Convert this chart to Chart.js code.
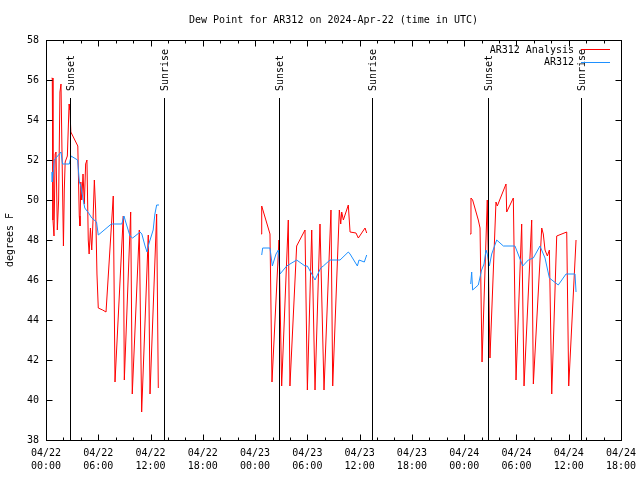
<!DOCTYPE html>
<html>
<head>
<meta charset="utf-8">
<title>Dew Point for AR312</title>
<script src="https://cdn.jsdelivr.net/npm/chart.js@4.4.1/dist/chart.umd.min.js"></script>
<style>
  html, body { margin: 0; padding: 0; background: #fff; }
  canvas { display: block; }
</style>
</head>
<body>
<canvas id="dewChart" width="640" height="480"></canvas>
<script>
// hours since 04/22 00:00 UTC; null value = gap in the record
const analysisHours = [
  0.65, 0.72, 0.80, 0.92, 1.05, 1.15, 1.30, 1.45, 1.60, 1.72, 1.85, 2.00, 2.10, 2.20, 2.45, 2.65, 2.75, 2.85,
  3.65, 3.82, 3.90, 4.00, 4.10, 4.25, 4.40, 4.55, 4.70, 4.85, 4.95, 5.10, 5.25, 5.40, 5.55, 5.70, 5.85, 6.00,
  6.50, 6.89, 7.72, 7.92, 8.87, 8.99, 9.72, 9.90, 10.71, 10.98, 11.74, 11.94, 12.70, 12.89,
  18,
  24.68, 24.76, 25.71, 25.94, 26.74, 27.05, 27.81, 28.00, 28.77, 29.73, 30.00, 30.50, 30.88, 31.45, 31.91,
  32.71, 32.91, 33.67, 33.83, 33.94, 34.13, 34.70, 34.90, 35.58, 35.85, 36.62, 36.81,
  43,
  48.67, 48.78, 48.97, 49.62, 49.82, 50.05, 50.65, 50.96, 51.65, 51.80, 52.80, 52.88, 53.64, 53.95, 54.60,
  54.87, 55.75, 55.94, 56.90, 57.08, 57.28, 57.55, 57.78, 58.05, 58.62, 59.77, 60.00, 60.84
];
const analysisDew = [
  56.1, 56.1, 49.0, 48.2, 52.3, 52.4, 48.5, 50.0, 55.4, 55.8, 52.0, 47.7, 50.5, 51.9, 52.2, 54.8, 54.5, 53.4,
  52.7, 49.2, 48.7, 50.9, 50.0, 51.3, 49.8, 51.8, 52.0, 48.0, 47.3, 48.6, 47.5, 49.0, 51.0, 49.5, 46.3, 44.6,
  44.5, 44.4, 50.2, 40.9, 49.2, 41.0, 49.4, 40.3, 48.5, 39.4, 48.25, 40.3, 49.3, 40.6,
  null,
  48.3, 49.7, 48.3, 40.9, 48.0, 40.7, 49.0, 40.7, 47.7, 48.5, 40.5, 48.5, 40.5, 48.8, 40.5,
  49.5, 40.7, 49.5, 48.8, 49.4, 49.0, 49.75, 48.4, 48.35, 48.1, 48.6, 48.35,
  null,
  48.3, 50.1, 50.0, 49.0, 48.6, 41.9, 50.0, 42.1, 49.9, 49.7, 50.8, 49.4, 50.1, 41.0, 48.8,
  40.7, 49.0, 40.8, 48.6, 48.3, 47.5, 47.2, 47.5, 40.3, 48.2, 48.4, 40.7, 48.0
];

const stationHours = [
  0.70, 0.72, 0.95, 1.72, 1.90, 2.68, 2.87, 3.63, 3.83, 4.00, 4.15, 4.45, 4.97, 5.25, 5.80, 6.00, 7.50,
  8.70, 8.95, 9.15, 9.64, 9.95, 10.80, 11.00, 11.37, 11.60, 11.80, 12.30, 12.50, 12.70, 12.97,
  18,
  24.76, 24.87, 25.71, 25.98, 26.40, 26.67, 26.86, 27.63, 28.77, 29.73, 30.00, 30.88, 31.53, 31.83, 32.60,
  33.75, 34.70, 34.90, 35.74, 35.93, 36.54, 36.81,
  43,
  48.75, 48.86, 48.97, 49.62, 50.00, 50.28, 50.50, 50.65, 50.89, 51.16, 51.73, 52.50, 53.83, 54.72, 55.36,
  55.94, 56.70, 57.28, 57.78, 58.80, 59.69, 60.72, 60.84
];
const stationDew = [
  51.4, 50.9, 52.0, 52.4, 51.8, 51.8, 52.2, 52.0, 50.9, 50.7, 50.3, 49.6, 49.3, 49.1, 48.9, 48.25, 48.8,
  48.8, 49.2, 48.9, 48.2, 48.1, 48.4, 48.3, 47.7, 47.4, 47.8, 48.5, 49.3, 49.75, 49.75,
  null,
  47.25, 47.6, 47.6, 46.7, 47.3, 47.5, 46.3, 46.7, 47.0, 46.7, 46.7, 46.0, 46.6, 46.7, 47.0,
  47.0, 47.4, 47.3, 46.7, 47.0, 46.9, 47.25,
  null,
  45.8, 46.4, 45.5, 45.75, 46.5, 46.8, 47.5, 47.3, 46.7, 47.3, 48.0, 47.7, 47.7, 46.7, 47.0,
  47.1, 47.7, 47.1, 46.1, 45.75, 46.3, 46.3, 45.4
];

const xTickLabels = [
  ["04/22", "00:00"], ["04/22", "06:00"], ["04/22", "12:00"], ["04/22", "18:00"],
  ["04/23", "00:00"], ["04/23", "06:00"], ["04/23", "12:00"], ["04/23", "18:00"],
  ["04/24", "00:00"], ["04/24", "06:00"], ["04/24", "12:00"], ["04/24", "18:00"]
];
const yTicks = [38, 40, 42, 44, 46, 48, 50, 52, 54, 56, 58];

const eventHours = [2.79, 13.58, 26.78, 37.45, 50.77, 61.41];
const eventLabels = ["Sunset", "Sunrise", "Sunset", "Sunrise", "Sunset", "Sunrise"];

const seriesNames = ["AR312 Analysis", "AR312"];
const seriesColors = ["#ff0000", "#1e90ff"];

const FONT = "10px 'DejaVu Sans Mono'";

function toPoints(hours, values) {
  return hours.map((h, i) => ({ x: h, y: values[i] }));
}

const gnuplotLook = {
  id: "gnuplotLook",
  afterDatasetsDraw(chart) {
    const ctx = chart.ctx;
    const area = chart.chartArea;
    const xs = chart.scales.x;
    const ys = chart.scales.y;
    const L = area.left + 0.5, R = area.right + 0.5, T = area.top + 0.5, B = area.bottom + 0.5;

    ctx.save();
    ctx.strokeStyle = "#000";
    ctx.lineWidth = 1;

    // sunrise / sunset markers
    ctx.font = FONT;
    ctx.fillStyle = "#000";
    eventHours.forEach((h, i) => {
      let px = Math.round(xs.getPixelForValue(h)) + 0.5;
      ctx.beginPath();
      ctx.moveTo(px, 98);
      ctx.lineTo(px, B);
      ctx.stroke();
      ctx.save();
      ctx.translate(px + 1, 91);
      ctx.rotate(-Math.PI / 2);
      ctx.textAlign = "left";
      ctx.textBaseline = "middle";
      ctx.fillText(eventLabels[i], 0, 0);
      ctx.restore();
    });

    // frame
    ctx.strokeRect(L, T, R - L, B - T);

    // x ticks, major every 6h, minor every 2h, mirrored on top
    ctx.beginPath();
    for (let h = 0; h <= 66; h += 2) {
      let px = Math.round(xs.getPixelForValue(h)) + 0.5;
      let len = h % 6 === 0 ? 6 : 3;
      ctx.moveTo(px, B); ctx.lineTo(px, B - len);
      ctx.moveTo(px, T); ctx.lineTo(px, T + len);
    }
    // y ticks, mirrored on right
    yTicks.forEach((v) => {
      let py = Math.round(ys.getPixelForValue(v)) + 0.5;
      ctx.moveTo(L, py); ctx.lineTo(L + 6, py);
      ctx.moveTo(R, py); ctx.lineTo(R - 6, py);
    });
    ctx.stroke();

    // title
    ctx.textAlign = "center";
    ctx.textBaseline = "middle";
    ctx.fillText("Dew Point for AR312 on 2024-Apr-22 (time in UTC)", (area.left + area.right) / 2, 20);

    // y axis title
    ctx.save();
    ctx.translate(10, (area.top + area.bottom) / 2);
    ctx.rotate(-Math.PI / 2);
    ctx.fillText("degrees F", 0, 0);
    ctx.restore();

    // key
    ctx.textAlign = "right";
    seriesNames.forEach((name, i) => {
      let y = 50 + i * 12.5;
      ctx.fillStyle = "#000";
      ctx.fillText(name, 574, y);
      ctx.strokeStyle = seriesColors[i];
      ctx.beginPath();
      ctx.moveTo(581, Math.floor(y) - 0.5 + i);
      ctx.lineTo(610, Math.floor(y) - 0.5 + i);
      ctx.stroke();
    });
    ctx.restore();
  }
};

new Chart(document.getElementById("dewChart"), {
  type: "line",
  data: {
    datasets: [
      {
        label: seriesNames[0],
        data: toPoints(analysisHours, analysisDew),
        borderColor: seriesColors[0],
        borderWidth: 1,
        pointRadius: 0,
        tension: 0,
        spanGaps: false,
        order: 1,
      },
      {
        label: seriesNames[1],
        data: toPoints(stationHours, stationDew),
        borderColor: seriesColors[1],
        borderWidth: 1,
        pointRadius: 0,
        tension: 0,
        spanGaps: false,
        order: 0,
      },
    ],
  },
  options: {
    responsive: false,
    devicePixelRatio: 1,
    animation: false,
    layout: { padding: { top: 40, right: 19, left: 0, bottom: 0 } },
    plugins: {
      legend: { display: false },
      title: { display: false },
      tooltip: { enabled: false },
    },
    scales: {
      x: {
        type: "linear",
        min: 0,
        max: 66,
        grid: { display: false, drawTicks: false },
        border: { display: false },
        ticks: {
          stepSize: 6,
          autoSkip: false,
          maxRotation: 0,
          padding: 7,
          color: "#000",
          font: { family: "DejaVu Sans Mono", size: 10, lineHeight: 1.3 },
          callback: (v) => xTickLabels[Math.round(v / 6)],
        },
        afterFit: (scale) => {
          scale.height = 40;
          scale.paddingLeft = 0;
          scale.paddingRight = 0;
        },
      },
      y: {
        min: 38,
        max: 58,
        grid: { display: false, drawTicks: false },
        border: { display: false },
        ticks: {
          stepSize: 2,
          padding: 7,
          color: "#000",
          font: { family: "DejaVu Sans Mono", size: 10 },
        },
        afterFit: (scale) => {
          scale.width = 46;
          scale.paddingTop = 0;
          scale.paddingBottom = 0;
        },
      },
    },
  },
  plugins: [gnuplotLook],
});
</script>
</body>
</html>
